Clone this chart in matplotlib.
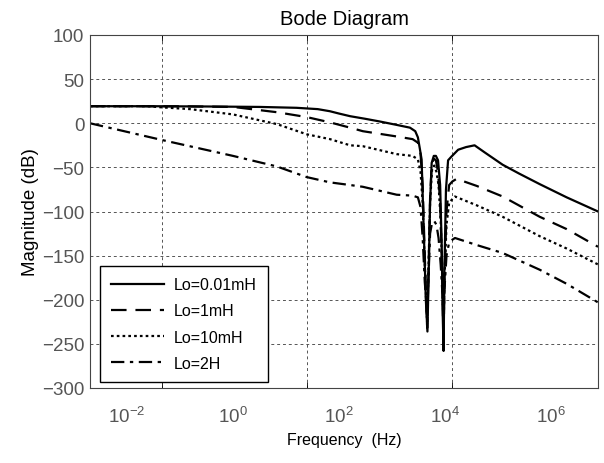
import numpy as np
import matplotlib
matplotlib.use("Agg")
import matplotlib.pyplot as plt
from matplotlib.ticker import FixedLocator, NullFormatter

plt.rcParams['font.family'] = ['Liberation Sans', 'DejaVu Sans']
plt.rcParams['mathtext.fontset'] = 'custom'
plt.rcParams['mathtext.rm'] = 'Liberation Sans'
plt.rcParams['mathtext.it'] = 'Liberation Sans'

### Data ###
labels = ["Lo=0.01mH", "Lo=1mH", "Lo=10mH", "Lo=2H"]

# log10 of frequency (Hz) and magnitude (dB)
solid_exp = [-2.7, -1.5, -0.5, 0.5, 1.2, 1.6, 1.83, 2.0, 2.21, 2.5, 2.77, 3.1, 3.34, 3.44, 3.49,
             3.53, 3.56, 3.60, 3.64, 3.67, 3.69, 3.72, 3.75, 3.79, 3.83, 3.87, 3.91, 3.94, 3.96,
             3.975, 3.99, 4.02, 4.06, 4.12, 4.25, 4.4, 4.56, 4.75, 5.09, 5.4, 5.79, 6.3, 6.89]
solid_db = [19.3, 19.3, 19.0, 18.5, 17.5, 16.0, 13.6, 11.0, 8.0, 5.0, 2.0, -2.0, -5.0, -9.0, -16.0,
            -30.0, -41.0, -120.0, -200.0, -236.0, -180.0, -90.0, -45.0, -37.0, -37.0, -42.0, -70.0, -140.0, -220.0,
            -258.0, -170.0, -75.0, -42.0, -38.0, -30.0, -27.0, -25.0, -33.0, -47.0, -57.0, -69.0, -84.0, -100.0]

dash_exp = [-2.7, -1.0, 0.0, 0.83, 1.39, 1.83, 2.21, 2.45, 3.09, 3.39, 3.49, 3.54, 3.58,
            3.62, 3.665, 3.69, 3.72, 3.75, 3.79, 3.83, 3.87, 3.91, 3.94, 3.96, 3.975, 3.99,
            4.03, 4.08, 4.14, 4.22, 4.6, 5.09, 5.79, 6.3, 6.89]
dash_db = [19.3, 19.2, 18.5, 12.5, 7.0, 1.0, -5.0, -9.0, -15.0, -18.0, -22.0, -35.0, -70.0,
           -150.0, -232.0, -170.0, -85.0, -48.0, -40.0, -42.0, -55.0, -90.0, -150.0, -210.0, -250.0, -180.0,
           -100.0, -70.0, -66.0, -63.0, -71.0, -83.0, -106.0, -120.0, -140.0]

dot_exp = [-2.7, -1.62, -1.34, -0.81, 0.0, 0.83, 1.39, 1.83, 2.21, 2.45, 3.09, 3.39, 3.49, 3.54,
           3.58, 3.62, 3.665, 3.69, 3.72, 3.76, 3.80, 3.84, 3.88, 3.92, 3.95, 3.975, 3.99,
           4.03, 4.08, 4.14, 4.19, 4.6, 5.09, 5.79, 6.3, 6.89]
dot_db = [19.3, 19.3, 18.0, 16.0, 10.0, -1.0, -12.5, -18.0, -25.0, -26.0, -35.0, -37.0, -41.0, -55.0,
          -90.0, -160.0, -228.0, -165.0, -90.0, -50.0, -48.0, -55.0, -70.0, -110.0, -170.0, -240.0, -180.0,
          -115.0, -90.0, -86.0, -83.0, -93.0, -106.0, -128.0, -142.0, -160.0]

dd_exp = [-2.7, -1.34, 0.0, 0.83, 1.39, 1.83, 2.21, 2.45, 3.09, 3.39, 3.49, 3.54, 3.58,
          3.62, 3.665, 3.69, 3.72, 3.76, 3.80, 3.84, 3.88, 3.92, 3.95, 3.975, 3.99,
          4.03, 4.08, 4.14, 4.19, 4.6, 5.09, 5.79, 6.3, 6.89]
dd_db = [0.0, -19.0, -37.0, -49.0, -61.0, -67.0, -70.0, -72.0, -81.0, -82.0, -84.0, -95.0, -130.0,
         -180.0, -215.0, -175.0, -125.0, -112.0, -111.0, -115.0, -130.0, -160.0, -190.0, -220.0, -190.0,
         -150.0, -135.0, -132.0, -130.0, -138.0, -147.0, -166.0, -182.0, -203.0]

# tick/grid positions (log10 Hz)
xtick_exp = [-2, 0, 2, 4, 6]
xgrid_exp = [-1.34, 1.39, 4.13]
yticks = [100, 50, 0, -50, -100, -150, -200, -250, -300]

### Plot ###
fig = plt.figure(figsize=(6.04, 4.64), dpi=100)
ax = fig.add_axes([90/604, 1-389/464, 508/604, 353/464])

curves = [(solid_exp, solid_db, dict(ls='-', lw=1.6)),
          (dash_exp, dash_db, dict(ls=(0, (7, 4)), lw=1.6)),
          (dot_exp, dot_db, dict(ls=(0, (1.2, 1.4)), lw=1.6)),
          (dd_exp, dd_db, dict(ls=(0, (6, 2.5, 1.5, 2.5)), lw=1.6))]
for (fx, db, sty), lab in zip(curves, labels):
    ax.plot(10.0 ** np.array(fx), db, color='black', label=lab, **sty)

ax.set_xscale('log')
ax.set_xlim(10 ** -2.7, 10 ** 6.89)
ax.set_ylim(-300, 100)

ax.xaxis.set_major_locator(FixedLocator([10.0 ** e for e in xtick_exp]))
ax.set_xticklabels([f"$10^{{{e}}}$" for e in xtick_exp])
ax.xaxis.set_minor_locator(FixedLocator([10.0 ** e for e in xgrid_exp]))
ax.xaxis.set_minor_formatter(NullFormatter())
ax.tick_params(axis='x', which='major', length=0, pad=13)
ax.tick_params(axis='x', which='minor', length=4, direction='in', top=True)
ax.set_yticks(yticks)
ax.tick_params(axis='y', length=0, pad=4)
ax.tick_params(axis='both', which='major', labelsize=13.5, labelcolor='#555555')

ax.grid(True, which='minor', axis='x', color='#555555', ls=(0, (3, 3)), lw=0.7)
ax.grid(True, which='major', axis='y', color='#555555', ls=(0, (3, 3)), lw=0.7)
ax.grid(False, which='major', axis='x')
for s in ax.spines.values():
    s.set_color('#444444')
    s.set_linewidth(0.8)

ax.set_title("Bode Diagram", fontsize=14.5, pad=8)
ax.set_xlabel("Frequency  (Hz)", fontsize=11.5, labelpad=4)
ax.set_ylabel("Magnitude (dB)", fontsize=13.5, labelpad=2)

leg = ax.legend(loc='lower left', bbox_to_anchor=(0.02, 0.017), borderaxespad=0,
                fontsize=11.5, handlelength=3.3, fancybox=False, framealpha=1,
                edgecolor='black', borderpad=0.7, labelspacing=0.7, handletextpad=0.6)
leg.get_frame().set_linewidth(1.0)

fig.savefig("out.png", dpi=100)
